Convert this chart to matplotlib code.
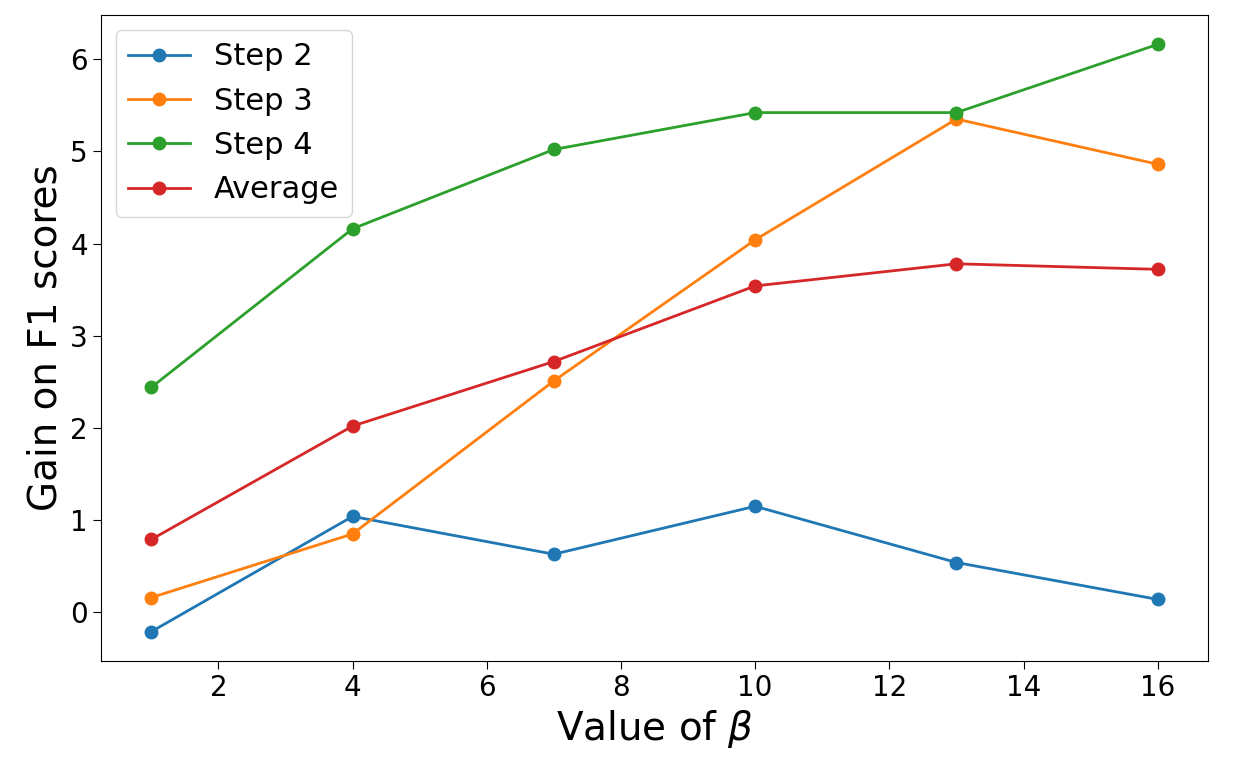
import matplotlib
matplotlib.use('Agg')
import matplotlib.pyplot as plt

beta = [1, 4, 7, 10, 13, 16]
step2 = [-0.21, 1.04, 0.63, 1.15, 0.54, 0.14]
step3 = [0.16, 0.85, 2.51, 4.04, 5.35, 4.86]
step4 = [2.44, 4.16, 5.02, 5.42, 5.42, 6.16]
average = [0.79, 2.02, 2.72, 3.54, 3.78, 3.72]

fig = plt.figure(figsize=(12.39, 7.69), dpi=100)
ax = fig.add_axes([0.0815, 0.1404, 0.8935, 0.8401])

ax.plot(beta, step2, marker='o', markersize=9, linewidth=2, label='Step 2')
ax.plot(beta, step3, marker='o', markersize=9, linewidth=2, label='Step 3')
ax.plot(beta, step4, marker='o', markersize=9, linewidth=2, label='Step 4')
ax.plot(beta, average, marker='o', markersize=9, linewidth=2, label='Average')

ax.set_xlabel(r'Value of $\beta$', fontsize=28)
ax.set_ylabel('Gain on F1 scores', fontsize=28)
ax.tick_params(labelsize=20, length=6)
ax.legend(fontsize=22)

fig.savefig('out.png', dpi=100)
